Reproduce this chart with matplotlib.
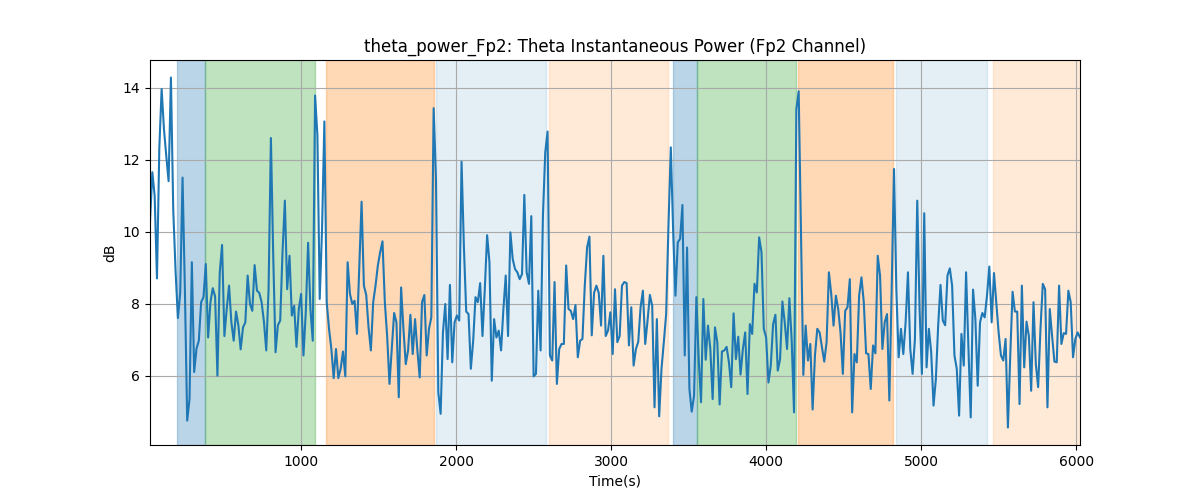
import numpy as np
import matplotlib
matplotlib.use("Agg")
import matplotlib.pyplot as plt

# Theta power values (dB)
seg1 = [10.26, 11.65, 11.0, 8.7, 12.3, 13.96, 12.85, 12.1, 11.4, 14.28, 10.6, 8.9, 7.6, 8.3, 11.5, 8.4,
        4.75, 5.35, 9.15, 6.1, 6.75, 6.97, 8.04, 8.18, 9.1, 7.06, 8.04, 8.43, 8.2, 6.0, 8.87, 9.63,
        7.1, 7.85, 8.5, 7.48, 6.97, 7.78, 7.4, 6.73, 7.34, 7.48, 8.78, 7.99, 7.8, 9.07, 8.36, 8.3, 8.04]
seg2 = [7.5, 6.7, 8.4, 12.6, 9.33, 6.65, 7.4, 7.53, 9.43, 10.86, 8.4, 9.33, 7.67, 7.94, 6.8, 7.85,
        8.27, 6.56, 7.76, 9.69, 7.85, 6.97, 13.78, 12.67, 8.13, 10.07, 13.06, 8.04, 7.3, 6.74, 5.93,
        6.74, 5.93, 6.19, 6.67, 5.98, 9.15, 8.27, 7.99, 8.08, 7.16, 8.96, 10.83, 8.5, 8.24, 7.34, 6.7,
        8.04, 8.5, 9.06]
seg3 = [9.43, 9.73, 8.04, 7.1, 5.77, 6.74, 7.74, 7.48, 5.4, 8.45, 7.3, 6.32, 6.7, 7.69, 6.6, 7.57,
        6.7, 5.95, 8.04, 8.24, 6.56, 7.3, 7.62, 13.43, 11.46, 5.54, 4.94, 7.2, 7.99, 6.46, 8.52, 6.37,
        7.48, 7.67, 7.53, 11.94, 9.6, 7.78, 7.71, 6.19, 6.97, 8.18, 8.04, 8.57, 7.1, 8.4, 9.9, 9.15, 5.86]
seg4 = [7.57, 7.06, 7.25, 6.7, 7.85, 8.78, 7.1, 9.98, 9.24, 8.96, 8.87, 8.68, 8.82, 11.02, 8.87, 8.55,
        10.43, 5.98, 6.05, 8.36, 6.7, 10.44, 12.2, 12.78, 6.56, 6.42, 8.6, 5.77, 6.74, 6.88, 6.88, 9.06,
        7.85, 7.8, 7.57, 7.96, 6.51, 6.97, 7.02, 8.5, 9.56, 9.86, 7.12, 8.3, 8.5, 8.3, 7.39, 9.33, 7.1, 7.25]
seg5 = [7.76, 6.6, 8.4, 6.93, 7.1, 8.5, 8.6, 8.57, 6.84, 7.9, 6.28, 6.74, 6.94, 7.9, 8.36, 6.88, 7.53,
        8.24, 7.94, 5.12, 7.57, 4.87, 6.19, 6.93, 7.71, 10.17, 12.34, 10.03, 8.22, 9.7, 9.8, 10.74, 6.56,
        9.56, 5.63, 5.0, 5.44, 8.18, 6.46, 5.26, 8.13, 6.44, 7.39, 6.74, 5.35, 7.34, 6.93, 5.2, 6.67]
seg6 = [6.7, 6.8, 6.37, 5.68, 7.73, 6.46, 7.08, 6.03, 6.74, 7.2, 5.49, 7.43, 7.16, 8.55, 8.31, 9.84,
        9.43, 7.3, 7.06, 5.81, 6.28, 7.43, 7.69, 6.14, 6.46, 8.06, 7.48, 6.74, 8.15, 6.97, 4.98, 13.4,
        13.9, 9.9, 6.02, 7.39, 6.42, 6.88, 5.06, 6.56, 7.3, 7.2, 6.8, 6.39, 6.93, 8.87, 8.27, 7.39, 8.22, 7.85]
seg7 = [7.2, 6.05, 7.8, 7.9, 8.68, 4.98, 6.6, 6.37, 8.22, 8.73, 8.04, 6.62, 6.6, 5.63, 6.84, 6.62, 9.33,
        8.78, 6.74, 7.48, 7.71, 5.31, 8.4, 11.74, 8.4, 6.51, 7.3, 6.6, 7.48, 8.87, 6.74, 6.05, 7.02, 10.86,
        7.85, 6.05, 10.51, 6.23, 7.3, 6.65, 5.17, 5.9, 7.39, 8.52, 7.53, 7.4, 8.78, 8.98, 8.5, 6.56]
seg8 = [6.19, 4.89, 7.16, 6.28, 8.87, 6.8, 4.84, 8.39, 7.57, 5.72, 7.48, 7.74, 7.62, 8.22, 9.03, 7.48,
        8.85, 8.04, 7.2, 6.56, 6.42, 7.02, 4.56, 6.56, 8.33, 7.78, 7.78, 5.21, 8.5, 6.23, 7.5, 7.1, 5.58,
        8.04, 6.32, 5.68, 7.3, 8.55, 8.4, 5.12, 7.85, 7.1, 6.39, 6.37, 8.5, 6.88, 7.18, 7.16, 8.36, 8.04,
        6.51, 7.02, 7.2, 7.06]

power = np.array(seg1 + seg2 + seg3 + seg4 + seg5 + seg6 + seg7 + seg8)
t0, dt = 25, 15
time = t0 + dt*np.arange(len(power))

# Stage intervals (s) and their colours / transparency
span_start = [200, 381, 1161, 1871, 2598, 3400, 3555, 4206, 4839, 5465]
span_end = [381, 1090, 1856, 2579, 3368, 3555, 4194, 4819, 5426, 6030]
span_color = ['tab:blue', 'tab:green', 'tab:orange', 'tab:blue', 'tab:orange',
              'tab:blue', 'tab:green', 'tab:orange', 'tab:blue', 'tab:orange']
span_alpha = [0.3, 0.3, 0.3, 0.12, 0.16, 0.3, 0.3, 0.3, 0.12, 0.16]

fig, ax = plt.subplots(figsize=(12, 5), dpi=100)
for a, b, c, al in zip(span_start, span_end, span_color, span_alpha):
    ax.axvspan(a, b, color=c, alpha=al)
ax.plot(time, power, color='tab:blue', lw=1.5)
ax.set_xlim(time[0], time[-1])
ax.grid(True, color='#aaaaaa', lw=0.8)
ax.set_title('theta_power_Fp2: Theta Instantaneous Power (Fp2 Channel)')
ax.set_xlabel('Time(s)')
ax.set_ylabel('dB')
fig.savefig('out.png')
